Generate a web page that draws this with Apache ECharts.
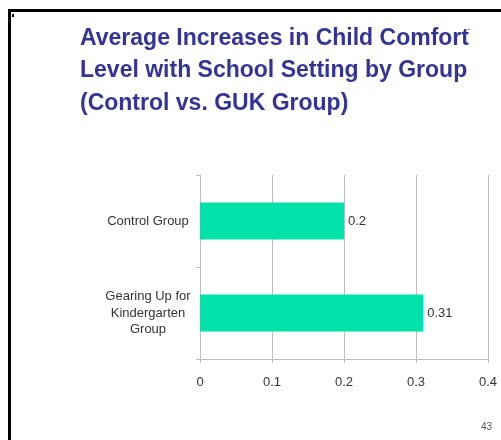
<!DOCTYPE html>
<html>
<head>
<meta charset="utf-8">
<script src="https://cdn.jsdelivr.net/npm/echarts@6/dist/echarts.min.js"></script>
<style>
  html, body { margin: 0; padding: 0; background: #ffffff; }
  #chart { width: 501px; height: 440px; }
</style>
</head>
<body>
<div id="chart"></div>
<script>
// Groups compared (top to bottom) and their average comfort increase
const groups = ['Control Group', 'Gearing Up for\nKindergarten\nGroup'];
const increases = [0.2, 0.31];
const xTicks = { min: 0, max: 0.4, interval: 0.1 };

const labelFont = "'Liberation Sans', Arial, sans-serif";
const axisGray = '#BFBFBF';

const chart = echarts.init(document.getElementById('chart'), null, { renderer: 'canvas' });

chart.setOption({
  backgroundColor: '#ffffff',
  animation: false,
  title: {
    text: 'Average Increases in Child Comfort\nLevel with School Setting by Group\n(Control vs. GUK Group)',
    left: 80,
    top: 22,
    padding: 0,
    textStyle: {
      fontFamily: "'Liberation Sans', Arial, sans-serif",
      fontWeight: 'bold',
      fontSize: 23,
      lineHeight: 32.5,
      color: '#333399'
    }
  },
  grid: { left: 200, right: 13, top: 175, bottom: 81, containLabel: false },
  xAxis: {
    type: 'value',
    min: xTicks.min,
    max: xTicks.max,
    interval: xTicks.interval,
    axisLine: { show: true, lineStyle: { color: axisGray, width: 1 } },
    axisTick: { show: true, length: 4, lineStyle: { color: axisGray } },
    splitLine: { show: true, lineStyle: { color: axisGray, width: 1 } },
    axisLabel: {
      margin: 17,
      fontFamily: labelFont,
      fontSize: 13,
      color: '#333333',
      formatter: v => String(Math.round(v * 10) / 10)
    }
  },
  yAxis: {
    type: 'category',
    data: groups,
    inverse: true,
    axisLine: { show: true, lineStyle: { color: axisGray, width: 1 } },
    axisTick: { show: true, length: 4, lineStyle: { color: axisGray } },
    splitLine: { show: false },
    axisLabel: {
      margin: 52,
      fontFamily: labelFont,
      fontSize: 13,
      lineHeight: 16.5,
      align: 'center',
      color: '#333333'
    }
  },
  series: [{
    type: 'bar',
    data: increases,
    barCategoryGap: '60%',
    itemStyle: { color: '#00E2A9' },
    label: {
      show: true,
      position: 'right',
      distance: 4,
      fontFamily: labelFont,
      fontSize: 13,
      color: '#333333'
    }
  }],
  graphic: [
    // slide frame: top and left rules
    { type: 'rect', shape: { x: 8, y: 9, width: 493, height: 3 }, style: { fill: '#000000' }, silent: true },
    { type: 'rect', shape: { x: 8, y: 9, width: 3, height: 431 }, style: { fill: '#000000' }, silent: true },
    { type: 'rect', shape: { x: 12, y: 14, width: 2, height: 3 }, style: { fill: '#000000' }, silent: true },
    { type: 'rect', shape: { x: 467, y: 29, width: 3, height: 1 }, style: { fill: '#999999' }, silent: true },
    // slide number
    {
      type: 'text',
      left: 481,
      top: 422,
      style: { text: '43', fontFamily: labelFont, fontSize: 10, fill: '#555555' },
      silent: true
    }
  ]
});
</script>
</body>
</html>
